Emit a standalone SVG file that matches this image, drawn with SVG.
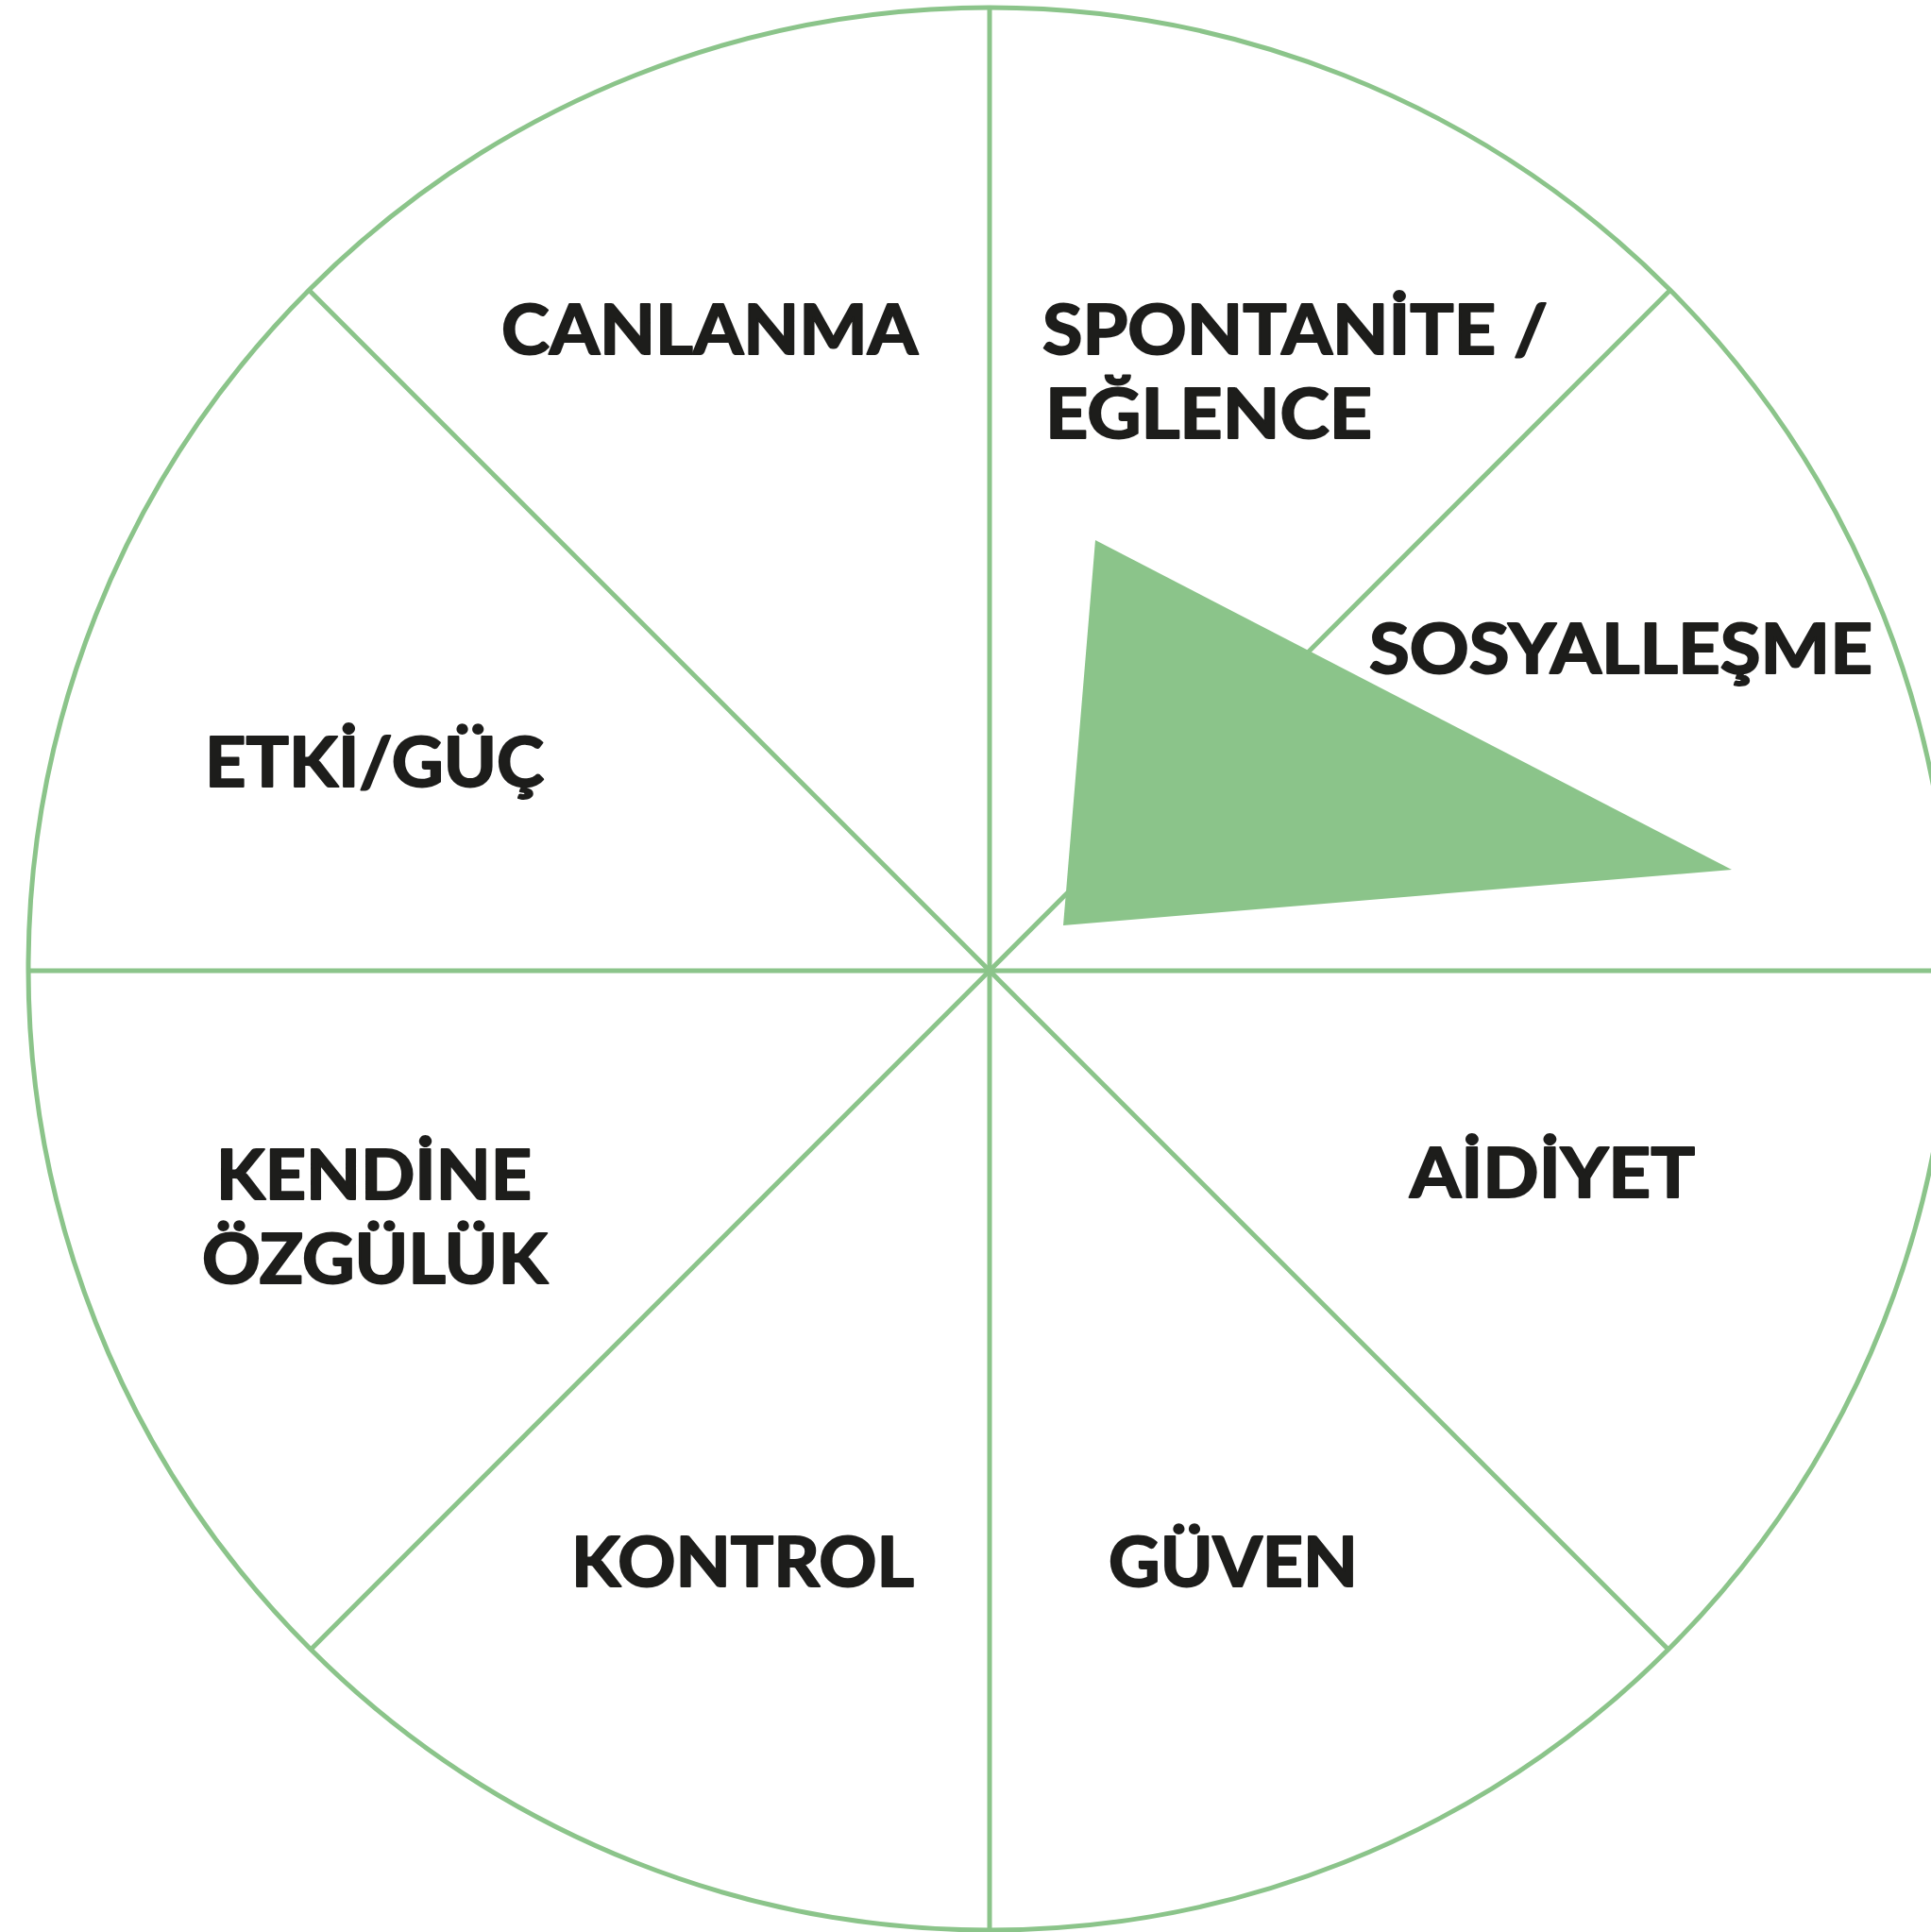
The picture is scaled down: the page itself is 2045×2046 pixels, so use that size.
<svg xmlns="http://www.w3.org/2000/svg" width="2045" height="2046" viewBox="0 0 2045 2046">
<style>
.ln{stroke:#8bc48a;stroke-width:5;fill:none}
.lb{font-family:Lato,"Open Sans","DejaVu Sans",sans-serif;font-weight:700;font-size:73px;fill:#1d1d1b;stroke:#1d1d1b;stroke-width:2;stroke-linejoin:round}
</style>
<rect width="2045" height="2046" fill="#ffffff"/>
<g id="wheel">
<circle class="ln" cx="1048" cy="1026" r="1018"/>
</g>
<g id="connectors">
<line class="ln" x1="1048" y1="8" x2="1048" y2="2046"/>
<line class="ln" x1="30" y1="1028" x2="2045" y2="1028"/>
<line class="ln" x1="328" y1="308" x2="1768" y2="1748"/>
<line class="ln" x1="1768" y1="308" x2="328" y2="1748"/>
</g>
<g id="indicator">
<polygon points="1160,572 1834,921 1126,980" fill="#8bc48a"/>
</g>
<g id="canlanma"><text class="lb" x="531" y="375" textLength="441" lengthAdjust="spacingAndGlyphs">CANLANMA</text></g>
<g id="spontanite"><text class="lb" x="1104" y="375" textLength="535" lengthAdjust="spacingAndGlyphs">SPONTANİTE /</text>
<text class="lb" x="1107" y="464" textLength="346" lengthAdjust="spacingAndGlyphs">EĞLENCE</text></g>
<g id="sosyallesme"><text class="lb" x="1450" y="713" textLength="533" lengthAdjust="spacingAndGlyphs">SOSYALLEŞME</text></g>
<g id="etki"><text class="lb" x="217" y="833" textLength="359" lengthAdjust="spacingAndGlyphs">ETKİ/GÜÇ</text></g>
<g id="kendine"><text class="lb" x="229" y="1270" textLength="334" lengthAdjust="spacingAndGlyphs">KENDİNE</text>
<text class="lb" x="214" y="1359" textLength="366" lengthAdjust="spacingAndGlyphs">ÖZGÜLÜK</text></g>
<g id="aidiyet"><text class="lb" x="1493" y="1268" textLength="302" lengthAdjust="spacingAndGlyphs">AİDİYET</text></g>
<g id="kontrol"><text class="lb" x="605" y="1680" textLength="363" lengthAdjust="spacingAndGlyphs">KONTROL</text></g>
<g id="guven"><text class="lb" x="1174" y="1680" textLength="264" lengthAdjust="spacingAndGlyphs">GÜVEN</text></g>
</svg>
